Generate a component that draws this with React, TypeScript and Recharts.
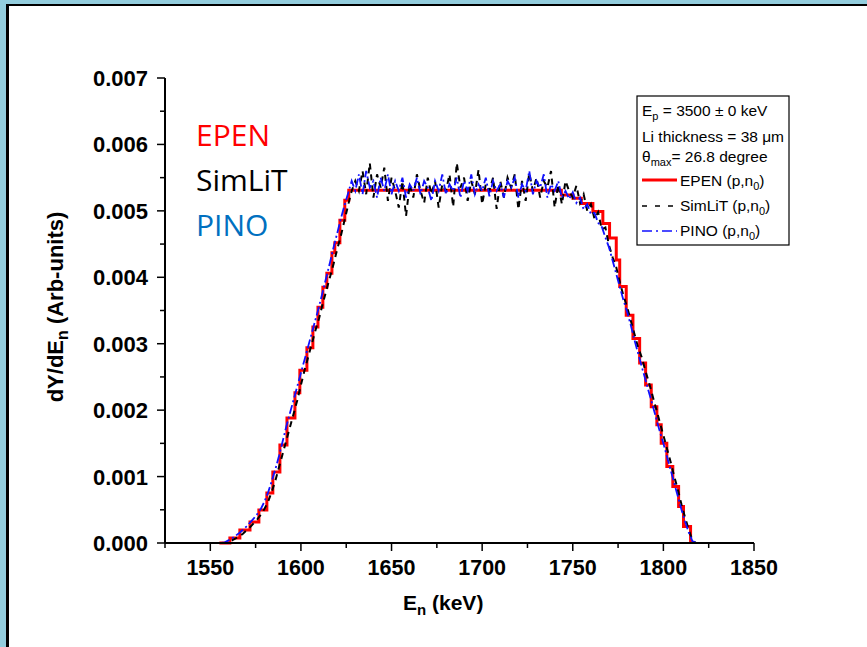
import React from 'react'
import { LineChart, Line, XAxis, YAxis } from 'recharts'

// energies (keV) of the SimLiT / PINO histograms
const ENERGY = [
  1556, 1558, 1560, 1562, 1564, 1566, 1568, 1570, 1572, 1574,
  1576, 1578, 1580, 1582, 1584, 1586, 1588, 1590, 1592, 1594,
  1596, 1598, 1600, 1602, 1604, 1606, 1608, 1610, 1612, 1614,
  1616, 1618, 1620, 1622, 1624, 1626, 1628, 1630, 1632, 1634,
  1636, 1638, 1640, 1642, 1644, 1646, 1648, 1650, 1652, 1654,
  1656, 1658, 1660, 1662, 1664, 1666, 1668, 1670, 1672, 1674,
  1676, 1678, 1680, 1682, 1684, 1686, 1688, 1690, 1692, 1694,
  1696, 1698, 1700, 1702, 1704, 1706, 1708, 1710, 1712, 1714,
  1716, 1718, 1720, 1722, 1724, 1726, 1728, 1730, 1732, 1734,
  1736, 1738, 1740, 1742, 1744, 1746, 1748, 1750, 1752, 1754,
  1756, 1758, 1760, 1762, 1764, 1766, 1768, 1770, 1772, 1774,
  1776, 1778, 1780, 1782, 1784, 1786, 1788, 1790, 1792, 1794,
  1796, 1798, 1800, 1802, 1804, 1806, 1808, 1810, 1812, 1814,
  1816, 1818,
]

// dY/dEn in units of 1e-3
const SIMLIT = [
  0, 0.0, 0.02, 0.04, 0.07, 0.1, 0.14, 0.19, 0.24, 0.3,
  0.36, 0.43, 0.52, 0.63, 0.78, 0.95, 1.15, 1.35, 1.55, 1.75,
  1.95, 2.15, 2.38, 2.6, 2.8, 3.0, 3.2, 3.38, 3.6, 3.8,
  4.0, 4.2, 4.42, 4.62, 4.85, 5.08, 5.3, 5.45, 5.3, 5.6,
  5.25, 5.72, 5.2, 5.55, 5.35, 5.65, 5.15, 5.5, 5.3, 5.05,
  5.45, 4.92, 5.4, 5.2, 5.55, 5.3, 5.12, 5.5, 5.25, 5.45,
  5.05, 5.4, 5.3, 5.55, 5.06, 5.72, 5.35, 5.5, 5.15, 5.45,
  5.25, 5.62, 5.1, 5.4, 5.3, 5.5, 5.03, 5.45, 5.2, 5.5,
  5.35, 5.55, 5.02, 5.45, 5.15, 5.57, 5.3, 5.5, 5.2, 5.45,
  5.35, 5.6, 5.05, 5.4, 5.1, 5.45, 5.3, 5.2, 5.38, 5.12,
  5.25, 5.0, 5.1, 4.88, 4.98, 4.72, 4.75, 4.48, 4.3, 4.15,
  3.92, 3.72, 3.55, 3.35, 3.15, 2.95, 2.8, 2.6, 2.42, 2.22,
  2.02, 1.82, 1.62, 1.42, 1.22, 1.0, 0.8, 0.58, 0.38, 0.2,
  0.04, 0,
]

const PINO = [
  0, 0.01, 0.04, 0.07, 0.11, 0.15, 0.2, 0.25, 0.31, 0.37,
  0.44, 0.52, 0.63, 0.77, 0.94, 1.12, 1.32, 1.54, 1.76, 1.96,
  2.16, 2.36, 2.56, 2.76, 2.96, 3.16, 3.36, 3.56, 3.78, 4.0,
  4.22, 4.45, 4.66, 4.88, 5.08, 5.26, 5.45, 5.3, 5.55, 5.25,
  5.6, 5.35, 5.45, 5.2, 5.5, 5.3, 5.55, 5.25, 5.45, 5.3,
  5.5, 5.2, 5.4, 5.3, 5.5, 5.25, 5.45, 5.35, 5.15, 5.45,
  5.3, 5.55, 5.25, 5.4, 5.3, 5.5, 5.2, 5.45, 5.3, 5.55,
  5.25, 5.4, 5.3, 5.5, 5.22, 5.45, 5.3, 5.4, 5.2, 5.45,
  5.35, 5.5, 5.2, 5.4, 5.3, 5.6, 5.25, 5.45, 5.35, 5.55,
  5.2, 5.4, 5.3, 5.45, 5.2, 5.3, 5.18, 5.28, 5.12, 5.2,
  5.02, 5.1, 4.95, 4.97, 4.82, 4.76, 4.6, 4.45, 4.25, 4.05,
  3.85, 3.65, 3.48, 3.28, 3.06, 2.86, 2.66, 2.47, 2.27, 2.08,
  1.88, 1.68, 1.5, 1.3, 1.1, 0.9, 0.7, 0.5, 0.32, 0.16,
  0.03, 0,
]

// EPEN staircase: energy where the level changes, and the new level (1e-3)
const EPEN_E = [
  1555, 1560.8, 1566.3, 1571.9, 1576.8, 1581.2, 1584.5, 1588.4, 1592.3, 1596.7,
  1599.4, 1603.3, 1606.6, 1609.4, 1612.1, 1614.3, 1617.1, 1618.7, 1621.5, 1624.2,
  1626.4, 1743.7, 1750.1, 1754.7, 1761.1, 1766.6, 1770.3, 1774.0, 1775.9, 1779.5,
  1783.2, 1786.9, 1790.2, 1793.3, 1796.4, 1798.8, 1801.9, 1805.2, 1808.4, 1811.1,
  1815.0,
]
const EPEN_Y = [
  0, 0.075, 0.196, 0.316, 0.497, 0.753, 1.069, 1.475, 1.88, 2.26,
  2.6, 2.94, 3.25, 3.55, 3.85, 4.06, 4.37, 4.52, 4.86, 5.16,
  5.31, 5.24, 5.19, 5.11, 4.99, 4.81, 4.59, 4.26, 3.86, 3.43,
  3.08, 2.71, 2.38, 2.05, 1.78, 1.5, 1.15, 0.85, 0.55, 0.25,
  0,
]

const X_TICKS = [1525, 1550, 1575, 1600, 1625, 1650, 1675, 1700, 1725, 1750, 1775, 1800, 1825, 1850]
const Y_TICKS = [0, 0.0005, 0.001, 0.0015, 0.002, 0.0025, 0.003, 0.0035, 0.004, 0.0045, 0.005, 0.0055, 0.006, 0.0065, 0.007]

const simData = ENERGY.map((e, i) => ({ e, y: SIMLIT[i] / 1000 }))
const pinoData = ENERGY.map((e, i) => ({ e, y: PINO[i] / 1000 }))
const epenData = EPEN_E.map((e, i) => ({ e, y: EPEN_Y[i] / 1000 }))

const ARIAL = '"Liberation Sans", Arial, sans-serif'
const tickFont = { fontFamily: ARIAL, fontWeight: 700, fill: '#000' }

function XTick(props: any) {
  const { x, y, payload } = props
  const v = payload.value
  const major = v % 50 === 0
  return (
    <g>
      <line x1={x} x2={x} y1={y} y2={y + (major ? 8 : 5)} stroke="#000" strokeWidth={1.5} />
      {major && (
        <text x={x} y={y + 32} textAnchor="middle" fontSize={21.5} style={tickFont}>
          {v}
        </text>
      )}
    </g>
  )
}

function YTick(props: any) {
  const { x, y, payload } = props
  const v = payload.value
  const major = Math.round(v * 10000) % 10 === 0
  return (
    <g>
      <line x1={x - (major ? 8 : 5)} x2={x} y1={y} y2={y} stroke="#000" strokeWidth={1.5} />
      {major && (
        <text x={x - 17} y={y + 8} textAnchor="end" fontSize={22} style={tickFont}>
          {v.toFixed(3)}
        </text>
      )}
    </g>
  )
}

export default function App() {
  return (
    <div style={{ position: 'fixed', left: 0, top: 0, width: 867, height: 647, background: '#93cddd', overflow: 'hidden' }}>
      <div
        style={{
          position: 'absolute',
          left: 6,
          top: 4,
          right: 0,
          bottom: 0,
          background: '#fff',
          borderLeft: '3px solid #000',
          borderTop: '2px solid #000',
        }}
      />
      <LineChart
        width={867}
        height={647}
        margin={{ top: 78, right: 113, bottom: 64, left: 85 }}
        style={{ position: 'absolute', left: 0, top: 0 }}
      >
        <XAxis
          type="number"
          dataKey="e"
          domain={[1525, 1850]}
          ticks={X_TICKS}
          interval={0}
          height={40}
          tickSize={0}
          tickMargin={0}
          tickLine={false}
          axisLine={{ stroke: '#000', strokeWidth: 2 }}
          tick={(p: any) => <XTick {...p} />}
        />
        <YAxis
          type="number"
          dataKey="y"
          domain={[0, 0.007]}
          ticks={Y_TICKS}
          interval={0}
          width={80}
          tickSize={0}
          tickMargin={0}
          tickLine={false}
          axisLine={{ stroke: '#000', strokeWidth: 2 }}
          tick={(p: any) => <YTick {...p} />}
        />
        <Line data={epenData} dataKey="y" type="stepAfter" stroke="#ff0000" strokeWidth={3} dot={false} isAnimationActive={false} />
        <Line data={simData} dataKey="y" type="linear" stroke="#000" strokeWidth={2} strokeDasharray="6 5" dot={false} isAnimationActive={false} />
        <Line data={pinoData} dataKey="y" type="linear" stroke="#1010ff" strokeWidth={1.8} strokeDasharray="9 3 2 3" dot={false} isAnimationActive={false} />
      </LineChart>

      <svg width={867} height={647} style={{ position: 'absolute', left: 0, top: 0, pointerEvents: 'none' }}>
        <text transform="translate(63,307) rotate(-90)" textAnchor="middle" fontSize={22} fontWeight={700} fontFamily={ARIAL}>
          dY/dE<tspan dy={5} fontSize={16}>n</tspan>
          <tspan dy={-5}> (Arb-units)</tspan>
        </text>
        <text x={403} y={610} fontSize={21} fontWeight={700} fontFamily={ARIAL}>
          E<tspan dy={5} fontSize={15}>n</tspan>
          <tspan dy={-5}> (keV)</tspan>
        </text>

        <g fontFamily='"Open Sans", Calibri, sans-serif' fontSize={30}>
          <text x={196} y={146} fill="#ff0000">EPEN</text>
          <text x={196} y={191} fill="#000">SimLiT</text>
          <text x={196} y={236} fill="#0070c0">PINO</text>
        </g>

        <g transform="translate(637,96)" fontFamily={ARIAL} fontSize={15.5}>
          <rect x={0} y={0} width={152} height={149} fill="#fff" stroke="#000" strokeWidth={1.2} />
          <text x={5} y={20}>
            E<tspan dy={4} fontSize={11}>p</tspan>
            <tspan dy={-4}> = 3500 ± 0 keV</tspan>
          </text>
          <text x={5} y={46}>Li thickness = 38 μm</text>
          <text x={5} y={66}>
            θ<tspan dy={4} fontSize={11}>max</tspan>
            <tspan dy={-4}>= 26.8 degree</tspan>
          </text>
          <line x1={5} x2={40} y1={84} y2={84} stroke="#ff0000" strokeWidth={3} />
          <text x={43} y={90}>
            EPEN (p,n<tspan dy={4} fontSize={11}>0</tspan>
            <tspan dy={-4}>)</tspan>
          </text>
          <line x1={5} x2={40} y1={110} y2={110} stroke="#000" strokeWidth={1.5} strokeDasharray="5 8" />
          <text x={43} y={115}>
            SimLiT (p,n<tspan dy={4} fontSize={11}>0</tspan>
            <tspan dy={-4}>)</tspan>
          </text>
          <line x1={5} x2={40} y1={135} y2={135} stroke="#1010ff" strokeWidth={1.5} strokeDasharray="10 4 2 4" />
          <text x={43} y={140}>
            PINO (p,n<tspan dy={4} fontSize={11}>0</tspan>
            <tspan dy={-4}>)</tspan>
          </text>
        </g>
      </svg>
    </div>
  )
}
